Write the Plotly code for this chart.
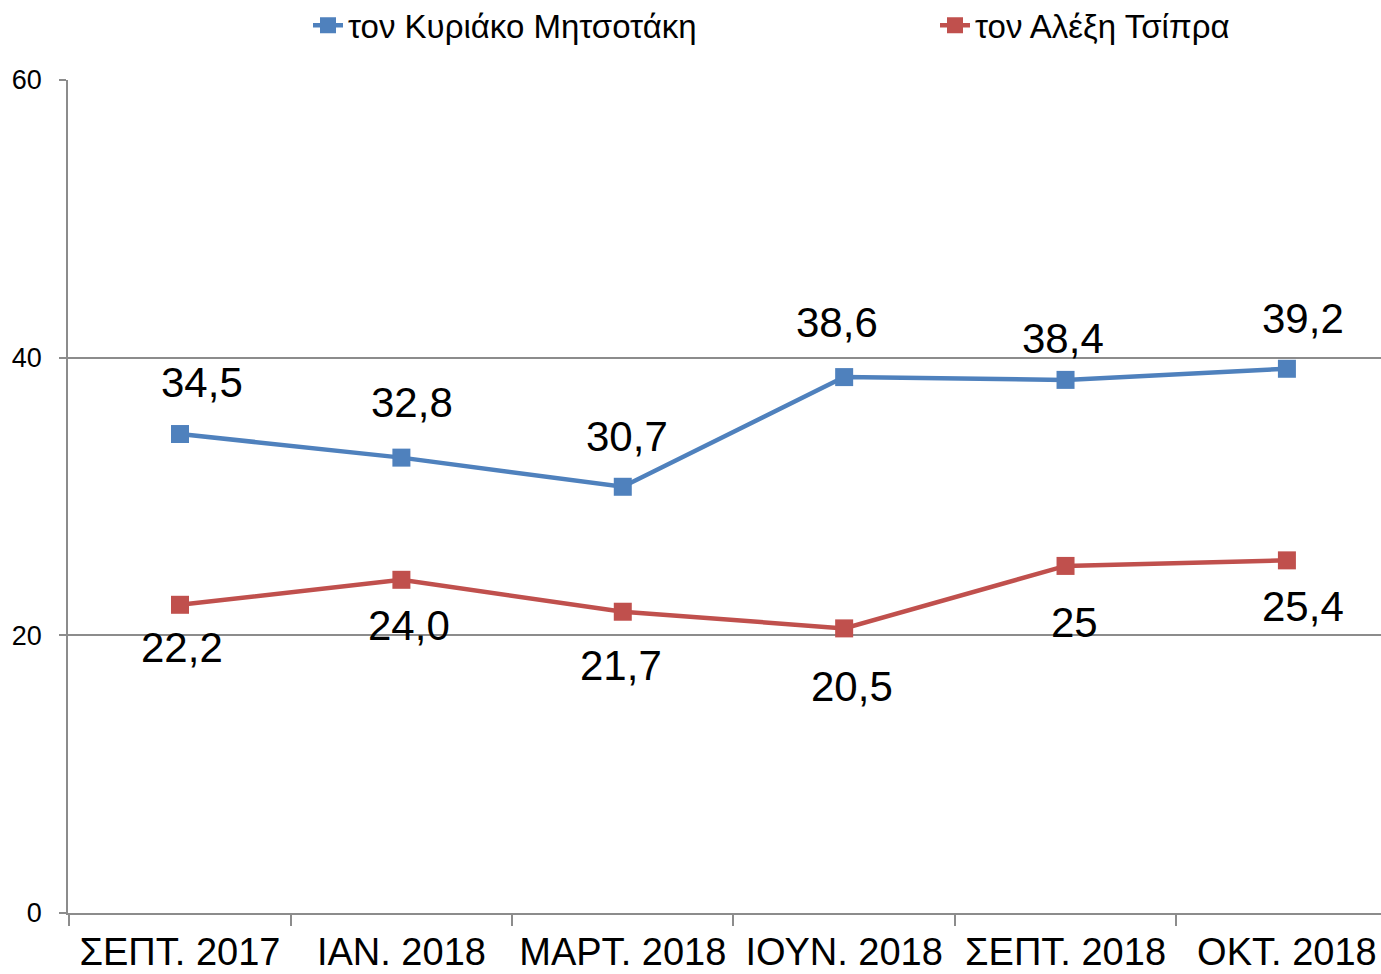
import plotly.graph_objects as go

categories = ["ΣΕΠΤ. 2017", "ΙΑΝ. 2018", "ΜΑΡΤ. 2018", "ΙΟΥΝ. 2018", "ΣΕΠΤ. 2018", "ΟΚΤ. 2018"]
mitsotakis = [34.5, 32.8, 30.7, 38.6, 38.4, 39.2]
tsipras = [22.2, 24.0, 21.7, 20.5, 25, 25.4]
series_names = ["τον Κυριάκο Μητσοτάκη", "τον Αλέξη Τσίπρα"]
y_ticks = [0, 20, 40, 60]

BLUE = "#4F81BD"
RED = "#C0504D"
FONT = "Liberation Sans, Arial, sans-serif"

# label offsets (pixels) relative to each point
blue_off = [(22, 52), (11, 55), (4, 50), (-7, 55), (-3, 41), (16, 50)]
red_off = [(2, -43), (8, -46), (-2, -54), (8, -58), (9, -57), (16, -46)]

fig = go.Figure()
for name, vals, col, lg in [(series_names[0], mitsotakis, BLUE, "legend"),
                            (series_names[1], tsipras, RED, "legend2")]:
    fig.add_trace(go.Scatter(
        x=categories, y=vals, name=name, mode="lines+markers",
        line=dict(color=col, width=4.5),
        marker=dict(symbol="square", size=18, color=col),
        legend=lg,
    ))

def fmt(v):
    return str(v).replace(".", ",")

annotations = []
for vals, offs in [(mitsotakis, blue_off), (tsipras, red_off)]:
    for c, v, (dx, dy) in zip(categories, vals, offs):
        annotations.append(dict(
            x=c, y=v, xref="x", yref="y", text=fmt(v), showarrow=False,
            xshift=dx, yshift=dy, xanchor="center", yanchor="middle",
            font=dict(family=FONT, size=42, color="black"),
        ))

legend_common = dict(
    orientation="h", xanchor="left",
    yref="container", y=0.974, yanchor="middle",
    font=dict(family=FONT, size=33, color="black"),
    bgcolor="rgba(0,0,0,0)",
)

fig.update_layout(
    width=1381, height=974,
    margin=dict(l=68, r=0, t=80, b=61),
    paper_bgcolor="white", plot_bgcolor="white",
    font=dict(family=FONT, color="black"),
    showlegend=True,
    legend=dict(x=(308 - 68) / 1313, **legend_common),
    legend2=dict(x=(935 - 68) / 1313, **legend_common),
    annotations=annotations,
)

fig.update_xaxes(
    type="category", range=[-0.506, 5.425],
    tickson="boundaries", ticks="outside", ticklen=11, tickwidth=1.5, tickcolor="#8c8c8c",
    showline=True, linecolor="#8c8c8c", linewidth=1.5,
    ticklabelstandoff=5, automargin=False,
    showgrid=False, tickfont=dict(family=FONT, size=38, color="black"),
)
fig.update_yaxes(
    range=[0, 60], tickvals=y_ticks, ticks="outside", ticklen=7, tickwidth=1.5, tickcolor="#8c8c8c",
    showline=True, linecolor="#8c8c8c", linewidth=1.5,
    showgrid=True, gridcolor="#8c8c8c", gridwidth=1.5, zeroline=False,
    ticklabelstandoff=12, automargin=False,
    tickfont=dict(family=FONT, size=27, color="black"),
)

fig.write_html("out.html", config={"displayModeBar": False},
               post_script="document.body.style.margin='0';document.body.style.padding='0';")
